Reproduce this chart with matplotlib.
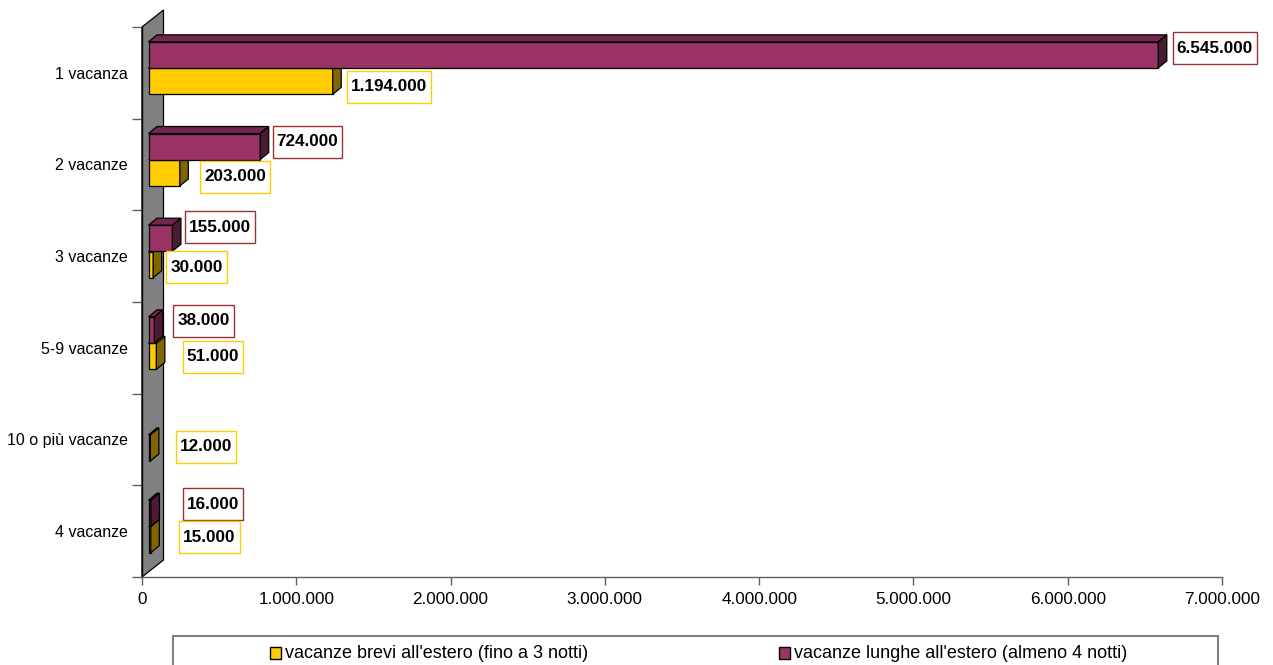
import matplotlib
matplotlib.use("Agg")
import matplotlib.pyplot as plt
from matplotlib.patches import Polygon, Rectangle
from matplotlib.transforms import IdentityTransform, ScaledTranslation
from matplotlib.ticker import FuncFormatter, FixedLocator
import numpy as np

# ---------------- data ----------------
categories = ["1 vacanza", "2 vacanze", "3 vacanze", "5-9 vacanze",
              "10 o più vacanze", "4 vacanze"]
brevi = [1194000, 203000, 30000, 51000, 12000, 15000]
lunghe = [6545000, 724000, 155000, 38000, None, 16000]
series_names = ["vacanze brevi all'estero (fino a 3 notti)",
                "vacanze lunghe all'estero (almeno 4 notti)"]
x_ticks = [0, 1000000, 2000000, 3000000, 4000000, 5000000, 6000000, 7000000]

# ---------------- style ----------------
W, H = 1273, 665
FONT = "Liberation Sans"
plt.rcParams["font.family"] = [FONT, "DejaVu Sans"]

col_b = {"front": "#FFCC00", "top": "#CCA300", "side": "#806600", "label": "#FFCC00"}
col_l = {"front": "#993366", "top": "#732650", "side": "#4C1A33", "label": "#993333"}

FX = 6.5      # front face shift from the wall (px)
DX, DY = 8.5, 7.0   # bar depth (px, right / up)
WDX, WDY = 21.5, 17.0  # wall depth
BH = 0.284    # bar height in category units
OFF_L, OFF_B = -0.196, 0.0925  # bar centre offsets within category

# label nudges: (gap after bar in px, vertical offset from category centre in px, +down)
nudge_l = [(6, -24.8), (4, -22.5), (4, -28.7), (10.5, -27.3), (0, 0), (23.5, -26.7)]
nudge_b = [(6, 13.7), (12, 12.0), (4.5, 11.3), (18, 8.7), (17, 7.0), (20, 6.3)]

fig = plt.figure(figsize=(W / 100, H / 100), dpi=100)
ax = fig.add_axes([142 / W, (H - 577) / H, (1222 - 142) / W, (577 - 27) / H])
ax.set_facecolor("none")

n = len(categories)
ypos = np.arange(n)

ax.set_xlim(0, 7000000)
ax.set_ylim(n - 0.5, -0.5)

# axes styling
for s in ("top", "right"):
    ax.spines[s].set_visible(False)
ax.spines["left"].set_color("black")
ax.spines["left"].set_linewidth(1.0)
ax.spines["bottom"].set_color("#606060")
ax.spines["bottom"].set_linewidth(1.0)

ax.xaxis.set_major_locator(FixedLocator(x_ticks))
ax.xaxis.set_major_formatter(FuncFormatter(lambda v, p: f"{int(v):,}".replace(",", ".")))
ax.tick_params(axis="x", direction="out", length=6, width=1, color="#606060",
               labelsize=12.3, pad=5)

ax.set_yticks(ypos)
ax.set_yticklabels(categories)
ax.set_yticks(np.arange(n + 1) - 0.5, minor=True)
ax.tick_params(axis="y", which="major", length=0, labelsize=11.5, pad=10)
ax.tick_params(axis="y", which="minor", direction="out", length=7.2, width=1,
               color="#606060")

ident = IdentityTransform()

# wall
bl = ax.transAxes.transform((0, 0))
tl = ax.transAxes.transform((0, 1))
wall = Polygon([bl, bl + (WDX, WDY), tl + (WDX, WDY), tl], closed=True,
               facecolor="#808080", edgecolor="black", linewidth=0.9,
               transform=ident, zorder=1, clip_on=False)
ax.add_patch(wall)

front_tr = ax.transData + ScaledTranslation(FX / 100, 0, fig.dpi_scale_trans)


def draw_series(values, offset, cols, z):
    vals = [np.nan if v is None else v for v in values]
    yc = ypos + offset
    ax.barh(yc, vals, height=BH, left=0, color=cols["front"], edgecolor="black",
            linewidth=0.9, transform=front_tr, zorder=z, clip_on=False)
    for v, y in zip(vals, yc):
        if np.isnan(v):
            continue
        x0, yt = ax.transData.transform((0, y - BH / 2))
        x1, yb = ax.transData.transform((v, y + BH / 2))
        x0 += FX
        x1 += FX
        top = Polygon([(x0, yt), (x1, yt), (x1 + DX, yt + DY), (x0 + DX, yt + DY)],
                      closed=True, facecolor=cols["top"], edgecolor="black",
                      linewidth=0.9, transform=ident, zorder=z, clip_on=False)
        side = Polygon([(x1, yb), (x1, yt), (x1 + DX, yt + DY), (x1 + DX, yb + DY)],
                       closed=True, facecolor=cols["side"], edgecolor="black",
                       linewidth=0.9, transform=ident, zorder=z, clip_on=False)
        ax.add_patch(top)
        ax.add_patch(side)


draw_series(brevi, OFF_B, col_b, 3)
draw_series(lunghe, OFF_L, col_l, 4)

# data labels
renderer = fig.canvas.get_renderer()


def draw_labels(values, nudges, cols):
    for i, (v, (gap, dy)) in enumerate(zip(values, nudges)):
        if v is None:
            continue
        xe = ax.transData.transform((v, 0))[0] + FX + DX + gap
        yc = ax.transData.transform((0, i))[1] - dy
        txt = f"{v:,}".replace(",", ".")
        t = ax.text(xe + 4, yc, txt, transform=ident, ha="left", va="center",
                    fontsize=12.3, fontweight="bold", color="black", zorder=7,
                    clip_on=False)
        bb = t.get_window_extent(renderer)
        r = Rectangle((xe, yc - 16), bb.width + 8, 32, transform=ident,
                      facecolor="white", edgecolor=cols["label"], linewidth=1.0,
                      zorder=6, clip_on=False)
        ax.add_patch(r)


draw_labels(lunghe, nudge_l, col_l)
draw_labels(brevi, nudge_b, col_b)

# legend (manual box)
leg_box = Rectangle((173, H - 672), 1218 - 173, 672 - 636, transform=ident,
                    facecolor="white", edgecolor="#808080", linewidth=1.5,
                    zorder=1, clip_on=False)
fig.add_artist(leg_box)
for name, cols, mx in ((series_names[0], col_b, 270), (series_names[1], col_l, 779)):
    fig.add_artist(Rectangle((mx, H - 659), 11, 12, transform=ident,
                             facecolor=cols["front"], edgecolor="black",
                             linewidth=1.0, zorder=2))
    fig.text(mx + 15, H - 653, name, transform=ident, ha="left", va="center",
             fontsize=13, color="black", zorder=3)

fig.savefig("out.png", dpi=100)
